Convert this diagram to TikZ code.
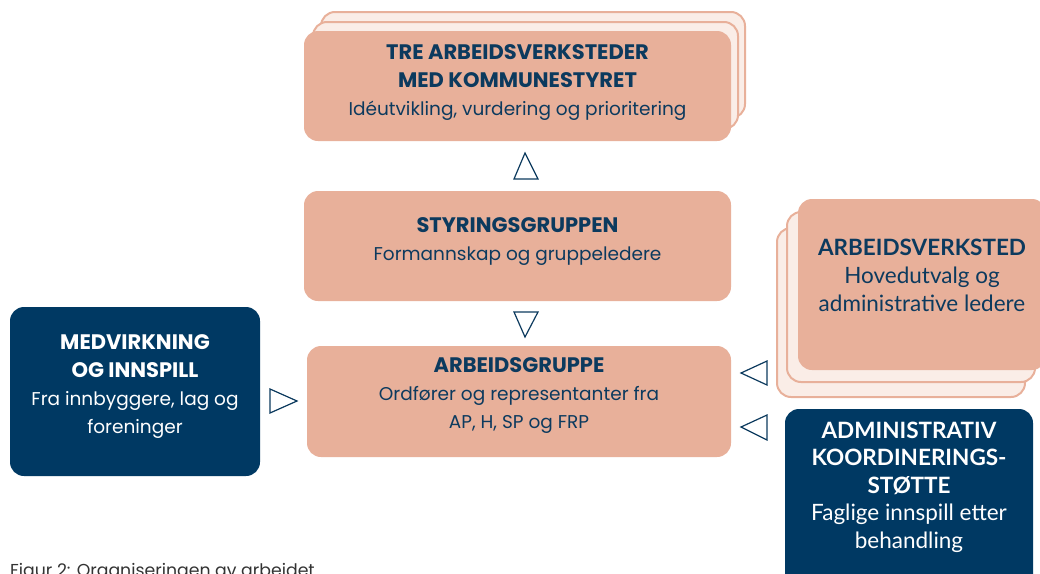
\documentclass[tikz,border=0pt]{standalone}
\usepackage{fontspec}
\setmainfont{Poppins}
\newfontfamily\rfont{Lato}
\definecolor{salm}{RGB}{232,176,154}
\definecolor{pale}{RGB}{250,237,231}
\definecolor{navy}{RGB}{0,57,99}
\definecolor{ink}{RGB}{12,58,94}
\newcommand{\ttl}{\bfseries\fontsize{21}{28}\selectfont}
\newcommand{\sub}{\mdseries\fontsize{18.5}{28}\selectfont}
\begin{document}
\begin{tikzpicture}[x=1pt,y=-1pt,
  box/.style={fill=salm, rounded corners=14pt, inner sep=0pt, minimum width=#1},
  backbox/.style={fill=pale, draw=salm, line width=2pt, rounded corners=14pt},
  nbox/.style={fill=navy, rounded corners=14pt, inner sep=0pt},
  txt/.style={text=ink, align=center, inner sep=0pt, font=\fontsize{18.5}{28}\selectfont},
  wtxt/.style={text=white, align=center, inner sep=0pt, font=\fontsize{18.5}{28}\selectfont},
  tri/.style={draw=ink, line width=1.2pt, line join=miter}
]
\useasboundingbox (0,0) rectangle (1040,573);
\clip (0,0) rectangle (1040,573);
% top stack
\draw[backbox] (321,12) rectangle (745,118);
\draw[backbox] (313,22) rectangle (738,129);
\node[box=427pt, minimum height=110pt] (tre) at (517.5,86) {};
\node[txt] (tretxt) at (517.5,83) {\ttl TRE ARBEIDSVERKSTEDER\\ \ttl MED KOMMUNESTYRET\\ \sub Idéutvikling, vurdering og prioritering};
% styringsgruppen
\node[box=427pt, minimum height=110pt] (sty) at (517.5,246) {};
\node[txt] (stytxt) at (517.5,242) {\ttl STYRINGSGRUPPEN\\ \sub Formannskap og gruppeledere};
% arbeidsgruppe
\node[box=424pt, minimum height=111pt] (arb) at (519,401.5) {};
\node[txt] (arbtxt) at (519,396) {\ttl ARBEIDSGRUPPE\\ \sub Ordfører og representanter fra\\ \sub AP, H, SP og FRP};
% medvirkning
\node[nbox, minimum width=250pt, minimum height=169pt] (med) at (135,391.5) {};
\node[wtxt] (medtxt) at (135,387) {\ttl MEDVIRKNING\\ \ttl OG INNSPILL\\ \sub Fra innbyggere, lag og\\ \sub foreninger};
% arbeidsverksted stack
\draw[backbox] (777,228) rectangle (1025,397);
\draw[backbox] (787,212) rectangle (1035,382);
\node[box=248pt, minimum height=171pt] (verk) at (922,284.5) {};
\node[txt, font=\rfont\fontsize{22.5}{28}\selectfont] (verktxt) at (922,275) {\bfseries ARBEIDSVERKSTED\\ \mdseries Hovedutvalg og\\ \mdseries administrative ledere};
% administrativ
\node[nbox, minimum width=248pt, minimum height=190pt] (adm) at (909,504) {};
\node[wtxt, font=\rfont\fontsize{22.5}{27.5}\selectfont] (admtxt) at (909,487) {\bfseries ADMINISTRATIV\\ \bfseries KOORDINERINGS-\\ \bfseries STØTTE\\ \mdseries Faglige innspill etter\\ \mdseries behandling};
% triangles
\draw[tri] (525,153) -- (538,179) -- (514,179) -- cycle;
\draw[tri] (514,312) -- (538,312) -- (525,337) -- cycle;
\draw[tri] (270,389) -- (297,401) -- (270,413) -- cycle;
\draw[tri] (767,361) -- (767,385) -- (741,373) -- cycle;
\draw[tri] (767,415) -- (767,440) -- (741,427) -- cycle;
% caption
\node[anchor=base west, inner sep=0pt, text=black!80, font=\fontsize{17.3}{20}\selectfont] (cap) at (10,576) {Figur 2: Organiseringen av arbeidet};
\end{tikzpicture}
\end{document}
